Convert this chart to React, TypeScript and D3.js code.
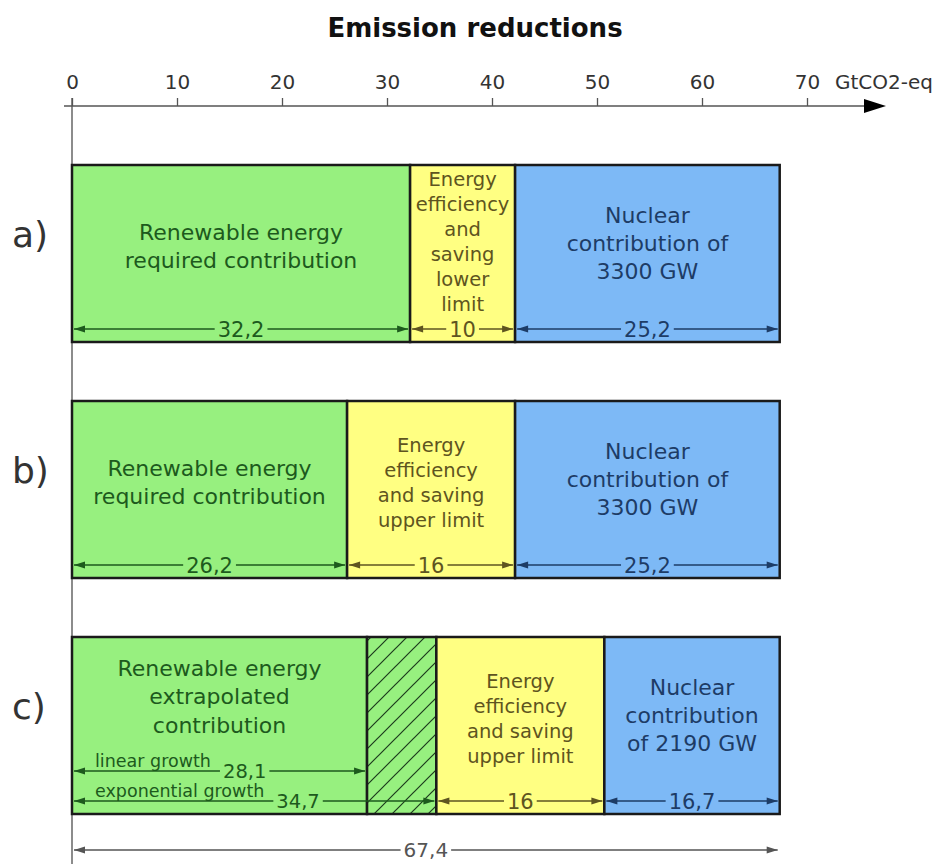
import React, { useEffect, useRef } from 'react';
import * as d3 from 'd3';

// valores (GtCO2-eq)
const rows = ['a)', 'b)', 'c)'];
const renewable = [32.2, 26.2, 28.1]; // c: crescimento linear
const renewableUpper = [32.2, 26.2, 34.7]; // c: crescimento exponencial
const efficiency = [10, 16, 16];
const nuclear = [25.2, 25.2, 16.7];
const totalReduction = 67.4;
const xTicks = [0, 10, 20, 30, 40, 50, 60, 70];

const renewableLabels = [
  ['Renewable energy', 'required contribution'],
  ['Renewable energy', 'required contribution'],
  ['Renewable energy', 'extrapolated', 'contribution'],
];
const efficiencyLabels = [
  ['Energy', 'efficiency', 'and', 'saving', 'lower', 'limit'],
  ['Energy', 'efficiency', 'and saving', 'upper limit'],
  ['Energy', 'efficiency', 'and saving', 'upper limit'],
];
const nuclearLabels = [
  ['Nuclear', 'contribution of', '3300 GW'],
  ['Nuclear', 'contribution of', '3300 GW'],
  ['Nuclear', 'contribution', 'of 2190 GW'],
];
const growthLabels = ['linear growth', 'exponential growth'];

const FONT = '"DejaVu Sans", Verdana, sans-serif';
const fmt = (v: number) => String(v).replace('.', ',');

const GREEN = '#97f07f';
const YELLOW = '#ffff82';
const BLUE = '#7db9f6';
const GREEN_TXT = '#1d5a1d';
const YELLOW_TXT = '#5e5420';
const BLUE_TXT = '#1d3c66';

const Chart: React.FC = () => {
  const svgRef = useRef<SVGSVGElement | null>(null);

  useEffect(() => {
    document.body.style.margin = '0';
    const svg = d3.select(svgRef.current);
    svg.selectAll('*').remove();

    const width = 950;
    const axisY = 106;

    const x = d3.scaleLinear().domain([0, 70]).range([72, 807]);
    const y = d3.scaleBand<string>().domain(rows).range([165, 814]).paddingInner(0.25);
    const bh = y.bandwidth();

    // hachura
    const defs = svg.append('defs');
    const pat = defs
      .append('pattern')
      .attr('id', 'hatch')
      .attr('patternUnits', 'userSpaceOnUse')
      .attr('width', 18)
      .attr('height', 18);
    pat.append('rect').attr('width', 18).attr('height', 18).attr('fill', GREEN);
    pat
      .append('path')
      .attr('d', 'M0,18 L18,0 M-4,4 L4,-4 M14,22 L22,14')
      .attr('stroke', '#1c3a1c')
      .attr('stroke-width', 1.2);

    // título
    svg
      .append('text')
      .attr('x', width / 2)
      .attr('y', 37)
      .attr('text-anchor', 'middle')
      .attr('font-family', FONT)
      .attr('font-weight', 'bold')
      .attr('font-size', 26)
      .attr('fill', '#111')
      .text('Emission reductions');

    // linha vertical do zero
    svg
      .append('line')
      .attr('x1', x(0))
      .attr('x2', x(0))
      .attr('y1', axisY - 8)
      .attr('y2', 864)
      .attr('stroke', '#8c8c8c')
      .attr('stroke-width', 2);

    // eixo superior
    const axis = svg
      .append('g')
      .attr('transform', `translate(0,${axisY})`)
      .call(d3.axisTop(x).tickValues(xTicks).tickSize(8).tickSizeOuter(0).tickPadding(9));
    axis.select('.domain').remove();
    axis.selectAll('.tick line').attr('stroke', '#555').attr('stroke-width', 1.3);
    axis
      .selectAll('.tick text')
      .attr('font-family', FONT)
      .attr('font-size', 20)
      .attr('fill', '#333');

    svg
      .append('line')
      .attr('x1', x(0) - 8)
      .attr('x2', 866)
      .attr('y1', axisY)
      .attr('y2', axisY)
      .attr('stroke', '#555')
      .attr('stroke-width', 1.6);
    svg
      .append('path')
      .attr('d', `M886,${axisY} L864,${axisY - 7} L864,${axisY + 7} Z`)
      .attr('fill', '#000');
    svg
      .append('text')
      .attr('x', 835)
      .attr('y', axisY - 17)
      .attr('font-family', FONT)
      .attr('font-size', 20)
      .attr('fill', '#333')
      .text('GtCO2-eq');

    // cota com setas nas pontas
    const dimension = (
      x0: number,
      x1: number,
      yy: number,
      color: string,
      bg: string,
      label: string,
      labelX?: number,
      size = 21
    ) => {
      const g = svg.append('g');
      const a0 = x0 + 2;
      const a1 = x1 - 2;
      g.append('line')
        .attr('x1', a0)
        .attr('x2', a1)
        .attr('y1', yy)
        .attr('y2', yy)
        .attr('stroke', color)
        .attr('stroke-width', 1.3);
      g.append('path')
        .attr('d', `M${a0},${yy} L${a0 + 11},${yy - 3.5} L${a0 + 11},${yy + 3.5} Z`)
        .attr('fill', color);
      g.append('path')
        .attr('d', `M${a1},${yy} L${a1 - 11},${yy - 3.5} L${a1 - 11},${yy + 3.5} Z`)
        .attr('fill', color);
      const t = g
        .append('text')
        .attr('x', labelX ?? (x0 + x1) / 2)
        .attr('y', yy)
        .attr('dy', '0.36em')
        .attr('text-anchor', labelX === undefined ? 'middle' : 'start')
        .attr('font-family', FONT)
        .attr('font-size', size)
        .attr('fill', color)
        .text(label);
      const bb = (t.node() as SVGTextElement).getBBox();
      g.insert('rect', 'text')
        .attr('x', bb.x - 3)
        .attr('y', yy - 3)
        .attr('width', bb.width + 6)
        .attr('height', 6)
        .attr('fill', bg);
    };

    const textBlock = (
      lines: string[],
      cx: number,
      cy: number,
      lh: number,
      size: number,
      color: string
    ) => {
      const t = svg
        .append('text')
        .attr('text-anchor', 'middle')
        .attr('font-family', FONT)
        .attr('font-size', size)
        .attr('fill', color);
      lines.forEach((line, i) => {
        t.append('tspan')
          .attr('x', cx)
          .attr('y', cy + (i - (lines.length - 1) / 2) * lh)
          .attr('dy', '0.36em')
          .text(line);
      });
    };

    rows.forEach((row, i) => {
      const top = y(row) as number;
      const g0 = 0;
      const g1 = renewable[i];
      const h1 = renewableUpper[i];
      const e1 = h1 + efficiency[i];
      const n1 = e1 + nuclear[i];

      const seg = (v0: number, v1: number, fill: string) =>
        svg
          .append('rect')
          .attr('x', x(v0))
          .attr('y', top)
          .attr('width', x(v1) - x(v0))
          .attr('height', bh)
          .attr('fill', fill)
          .attr('stroke', '#1a1a1a')
          .attr('stroke-width', 2.5);

      seg(g0, g1, GREEN);
      if (h1 > g1) seg(g1, h1, 'url(#hatch)');
      seg(h1, e1, YELLOW);
      seg(e1, n1, BLUE);

      // rótulo da linha
      svg
        .append('text')
        .attr('x', 12)
        .attr('y', top + 69)
        .attr('dy', '0.36em')
        .attr('font-family', FONT)
        .attr('font-size', 36)
        .attr('fill', '#333')
        .text(row);

      const hatched = h1 > g1;
      textBlock(
        renewableLabels[i],
        (x(g0) + x(g1)) / 2,
        top + (hatched ? 59.5 : 81),
        28.5,
        22,
        GREEN_TXT
      );
      const effLines = efficiencyLabels[i];
      textBlock(
        effLines,
        (x(h1) + x(e1)) / 2,
        top + (effLines.length > 4 ? 76 : 81),
        25,
        19.5,
        YELLOW_TXT
      );
      textBlock(nuclearLabels[i], (x(e1) + x(n1)) / 2, top + 78, 28, 22, BLUE_TXT);

      const dimY = top + 164;
      if (hatched) {
        const linY = top + 134;
        const startX = x(0) + 23;
        [
          { v: g1, yy: linY, label: growthLabels[0] },
          { v: h1, yy: dimY, label: growthLabels[1] },
        ].forEach((d) => {
          const lt = svg
            .append('text')
            .attr('x', startX)
            .attr('y', d.yy - 4)
            .attr('font-family', FONT)
            .attr('font-size', 17.5)
            .attr('fill', GREEN_TXT)
            .text(d.label);
          const w = (lt.node() as SVGTextElement).getComputedTextLength();
          dimension(x(0), x(d.v), d.yy, GREEN_TXT, GREEN, fmt(d.v), startX + w + 12, 19.5);
        });
      } else {
        dimension(x(g0), x(g1), dimY, GREEN_TXT, GREEN, fmt(renewable[i]));
      }
      dimension(x(h1), x(e1), dimY, YELLOW_TXT, YELLOW, fmt(efficiency[i]));
      dimension(x(e1), x(n1), dimY, BLUE_TXT, BLUE, fmt(nuclear[i]));
    });

    // cota total
    dimension(x(0), x(totalReduction), 850, '#555', '#fff', fmt(totalReduction), undefined, 20);
  }, []);

  return <svg ref={svgRef} width={950} height={864} style={{ display: 'block' }}></svg>;
};

export default function App() {
  return <Chart />;
}
